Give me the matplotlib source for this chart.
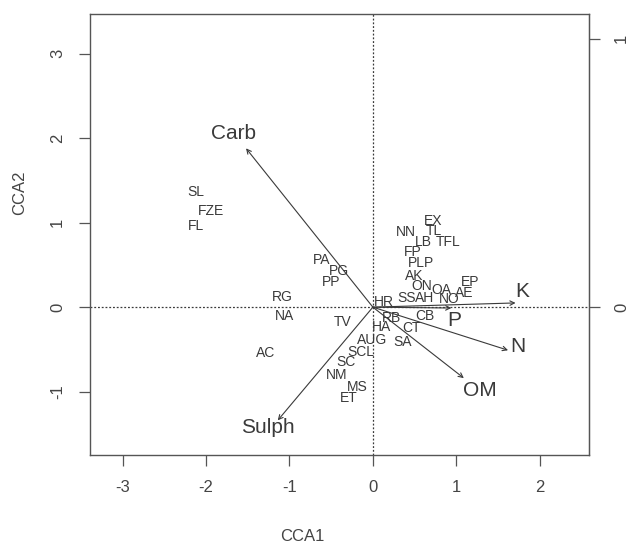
import matplotlib
matplotlib.use("Agg")
import matplotlib.pyplot as plt

plt.rcParams['font.family'] = ['Liberation Sans', 'DejaVu Sans']
plt.rcParams['axes.unicode_minus'] = False

# site scores (CCA1, CCA2)
sites = ["SL", "FZE", "FL", "PA", "PG", "PP", "RG", "NA", "TV", "AC",
         "HR", "SS", "AH", "NO", "OA", "AE", "EP", "ON", "AK", "PLP",
         "FP", "NN", "LB", "TFL", "TL", "EX", "CB", "RB", "HA", "CT",
         "SA", "AUG", "SCL", "SC", "NM", "MS", "ET"]
site_x = [-2.12, -1.94, -2.12, -0.62, -0.41, -0.50, -1.08, -1.06, -0.36, -1.29,
          0.13, 0.40, 0.62, 0.91, 0.82, 1.09, 1.16, 0.58, 0.49, 0.58,
          0.48, 0.40, 0.61, 0.90, 0.73, 0.72, 0.62, 0.22, 0.10, 0.46,
          0.35, -0.01, -0.15, -0.32, -0.43, -0.19, -0.29]
site_y = [1.36, 1.14, 0.96, 0.56, 0.43, 0.30, 0.12, -0.11, -0.18, -0.54,
          0.06, 0.11, 0.11, 0.10, 0.20, 0.17, 0.30, 0.25, 0.37, 0.52,
          0.65, 0.89, 0.77, 0.77, 0.90, 1.02, -0.11, -0.13, -0.24, -0.25,
          -0.41, -0.39, -0.53, -0.65, -0.80, -0.95, -1.08]

# environmental biplot arrows
env = ["Carb", "Sulph", "K", "P", "N", "OM"]
env_x = [-1.52, -1.14, 1.71, 0.94, 1.62, 1.09]
env_y = [1.88, -1.34, 0.05, -0.01, -0.51, -0.84]
env_lab_x = [-1.67, -1.26, 1.79, 0.98, 1.74, 1.28]
env_lab_y = [2.06, -1.43, 0.18, -0.16, -0.46, -0.99]

arrow_scale = 3.18  # right axis: biplot scale

ink = "#3a3a3a"

fig = plt.figure(figsize=(6.29, 5.49), dpi=100)
ax = fig.add_axes([90 / 629, 94 / 549, 499 / 629, 441 / 549])

ax.set_xlim(-3.39, 2.59)
ax.set_ylim(-1.75, 3.47)

ax.axhline(0, color=ink, lw=0.9, ls=(0, (1.5, 1.5)))
ax.axvline(0, color=ink, lw=0.9, ls=(0, (1.5, 1.5)))

for name, x, y in zip(sites, site_x, site_y):
    ax.text(x, y, name, fontsize=10, color=ink, ha="center", va="center")

for name, x, y, lx, ly in zip(env, env_x, env_y, env_lab_x, env_lab_y):
    ax.annotate("", xy=(x, y), xytext=(0, 0),
                arrowprops=dict(arrowstyle="->", color=ink, lw=0.8,
                                shrinkA=0, shrinkB=0, mutation_scale=8))
    ax.text(lx, ly, name, fontsize=15, color=ink, ha="center", va="center")

for s in ax.spines.values():
    s.set_color("#555555")
    s.set_linewidth(1.0)

ax.set_xticks([-3, -2, -1, 0, 1, 2])
ax.set_yticks([-1, 0, 1, 2, 3])
ax.tick_params(axis="both", direction="out", length=8, width=0.9,
               color="#555555", labelcolor="#444444", labelsize=12, pad=10)
for lab in ax.get_yticklabels():
    lab.set_rotation(90)
    lab.set_va("center")

ax.set_xlabel("CCA1", fontsize=12, color="#444444")
ax.set_ylabel("CCA2", fontsize=12, color="#444444")
ax.xaxis.set_label_coords(0.425, -0.168)
ax.yaxis.set_label_coords(-0.126, 0.594)

ax2 = ax.secondary_yaxis("right", functions=(lambda v: v / arrow_scale,
                                             lambda v: v * arrow_scale))
ax2.set_yticks([0, 1])
ax2.tick_params(direction="out", length=8, width=0.9, color="#555555",
                labelcolor="#444444", labelsize=12, pad=10)
for lab in ax2.get_yticklabels():
    lab.set_rotation(90)
    lab.set_va("center")
ax2.spines["right"].set_color("#555555")

fig.savefig("out.png", dpi=100)
